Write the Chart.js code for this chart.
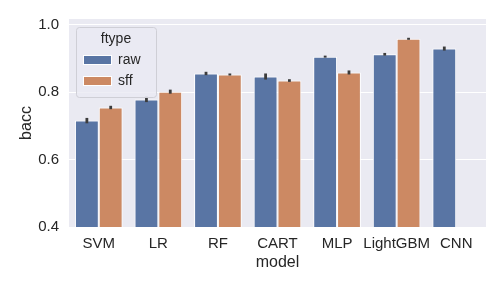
<!DOCTYPE html>
<html>
<head>
<meta charset="utf-8">
<script src="https://cdn.jsdelivr.net/npm/chart.js@4"></script>
<style>
  html, body { margin: 0; padding: 0; background: #ffffff; }
  #wrap { width: 504px; height: 288px; }
</style>
</head>
<body>
<div id="wrap"><canvas id="baccChart" width="504" height="288"></canvas></div>
<script>
const models = ['SVM', 'LR', 'RF', 'CART', 'MLP', 'LightGBM', 'CNN'];
const rawBacc = [0.716, 0.779, 0.856, 0.847, 0.906, 0.913, 0.930];
const sffBacc = [0.755, 0.802, 0.853, 0.835, 0.859, 0.959, null];
const rawErr = [0.008, 0.008, 0.005, 0.009, 0.003, 0.004, 0.006];
const sffErr = [0.005, 0.006, 0.003, 0.004, 0.006, 0.003, null];
const yTicks = [0.4, 0.6, 0.8, 1.0];

const FONT = '"Liberation Sans", Arial, sans-serif';

// seaborn darkgrid background behind the bars
const backgroundPlugin = {
    id: 'background',
    beforeDraw(chart) {
        const { ctx, chartArea } = chart;
        ctx.save();
        ctx.fillStyle = '#eaeaf2';
        ctx.fillRect(chartArea.left, chartArea.top, chartArea.right - chartArea.left, chartArea.bottom - chartArea.top);
        ctx.restore();
    }
};

// dark error bars on top of each bar
const errorBarPlugin = {
    id: 'errorBars',
    afterDatasetsDraw(chart) {
        const { ctx } = chart;
        const yScale = chart.scales.y;
        const errs = [rawErr, sffErr];
        ctx.save();
        ctx.strokeStyle = '#3c3c3c';
        ctx.lineWidth = 2.8;
        chart.data.datasets.forEach((ds, di) => {
            const meta = chart.getDatasetMeta(di);
            meta.data.forEach((bar, i) => {
                const v = ds.data[i];
                const e = errs[di][i];
                if (v == null || e == null) return;
                ctx.beginPath();
                ctx.moveTo(bar.x, yScale.getPixelForValue(v - e));
                ctx.lineTo(bar.x, yScale.getPixelForValue(v + e));
                ctx.stroke();
            });
        });
        ctx.restore();
    }
};

// legend drawn inside the upper-left of the plot, like matplotlib
const innerLegendPlugin = {
    id: 'innerLegend',
    afterDraw(chart) {
        const { ctx, chartArea } = chart;
        const x0 = chartArea.left + 7;
        const y0 = chartArea.top + 8;
        const w = 80, h = 70;
        ctx.save();
        ctx.fillStyle = 'rgba(234,234,242,0.8)';
        ctx.strokeStyle = '#cfcfd6';
        ctx.lineWidth = 1;
        ctx.beginPath();
        ctx.roundRect(x0 + 0.5, y0 + 0.5, w, h, 3);
        ctx.fill();
        ctx.stroke();

        ctx.fillStyle = '#262626';
        ctx.font = '14px ' + FONT;
        ctx.textAlign = 'center';
        ctx.textBaseline = 'middle';
        ctx.fillText('ftype', x0 + 40, y0 + 12);

        ctx.textAlign = 'left';
        chart.data.datasets.forEach((ds, i) => {
            const cy = y0 + 33 + i * 21;
            ctx.fillStyle = ds.backgroundColor;
            ctx.fillRect(x0 + 7, cy - 5, 29, 10);
            ctx.strokeStyle = '#ffffff';
            ctx.strokeRect(x0 + 7.5, cy - 4.5, 28, 9);
            ctx.fillStyle = '#262626';
            ctx.fillText(ds.label, x0 + 42, cy);
        });
        ctx.restore();
    }
};

const ctx = document.getElementById('baccChart').getContext('2d');

new Chart(ctx, {
    type: 'bar',
    data: {
        labels: models,
        datasets: [
            {
                label: 'raw',
                data: rawBacc,
                backgroundColor: '#5975a4',
                borderColor: '#ffffff',
                borderWidth: 1
            },
            {
                label: 'sff',
                data: sffBacc,
                backgroundColor: '#cc8963',
                borderColor: '#ffffff',
                borderWidth: 1
            }
        ]
    },
    options: {
        responsive: false,
        animation: false,
        devicePixelRatio: 1,
        layout: { padding: { left: 0, right: 18, top: 19, bottom: 0 } },
        datasets: {
            bar: { categoryPercentage: 0.8, barPercentage: 1.0 }
        },
        plugins: {
            legend: { display: false },
            tooltip: { enabled: false }
        },
        scales: {
            x: {
                offset: true,
                afterFit(scale) {
                    scale.height = 61;
                },
                grid: { display: false, drawTicks: false },
                border: { display: false },
                ticks: {
                    color: '#262626',
                    font: { family: FONT, size: 15 },
                    padding: 8,
                    maxRotation: 0,
                    autoSkip: false
                },
                title: {
                    display: true,
                    text: 'model',
                    color: '#262626',
                    font: { family: FONT, size: 16 },
                    padding: { top: 0, bottom: 16 }
                }
            },
            y: {
                min: 0.4,
                max: 1.0178,
                afterBuildTicks(scale) {
                    scale.ticks = yTicks.map(v => ({ value: v }));
                },
                afterFit(scale) {
                    scale.width = 69;
                },
                grid: { color: '#ffffff', lineWidth: 1, drawTicks: false },
                border: { display: false },
                ticks: {
                    color: '#262626',
                    font: { family: FONT, size: 15 },
                    padding: 10,
                    callback: v => v.toFixed(1)
                },
                title: {
                    display: true,
                    text: 'bacc',
                    color: '#262626',
                    font: { family: FONT, size: 16 },
                    padding: { top: 17, bottom: 0 }
                }
            }
        }
    },
    plugins: [backgroundPlugin, errorBarPlugin, innerLegendPlugin]
});
</script>
</body>
</html>
